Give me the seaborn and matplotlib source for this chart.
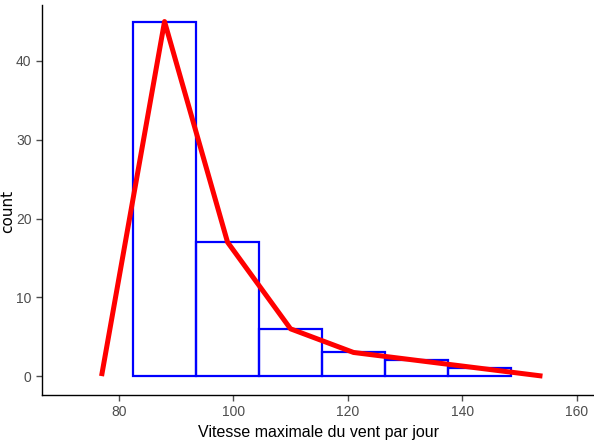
import matplotlib
matplotlib.use("Agg")
import matplotlib.pyplot as plt
import seaborn as sns
import numpy as np

bin_edges = [82.5, 93.5, 104.5, 115.5, 126.5, 137.5, 148.5]
bin_counts = [45, 17, 6, 3, 2, 1]
poly_x = [77, 88, 99, 110, 121, 132, 143, 154]
poly_y = [0, 45, 17, 6, 3, 2, 1, 0]
x_ticks = [80, 100, 120, 140, 160]
y_ticks = [0, 10, 20, 30, 40]

sns.set_style("white")
plt.rcParams['font.family'] = ['Liberation Sans Narrow', 'Liberation Sans', 'DejaVu Sans']

fig = plt.figure(figsize=(5.94, 4.46), dpi=100)
ax = fig.add_axes([42/594, 1-395/446, (594-42)/594, (395-5)/446])

centers = [(bin_edges[i] + bin_edges[i+1]) / 2 for i in range(len(bin_counts))]
sns.histplot(x=centers, weights=bin_counts, bins=bin_edges, fill=False,
             element="bars", color="#0000FF", linewidth=1.6, ax=ax)
sns.lineplot(x=poly_x, y=poly_y, color="#FF0000", linewidth=3.6, ax=ax,
             solid_capstyle="butt")

ax.set_xlim(66.6, 163.0)
ax.set_ylim(-2.4, 47.1)
ax.set_xticks(x_ticks)
ax.set_yticks(y_ticks)
ax.tick_params(axis='both', colors='#4d4d4d', labelsize=10, length=4, width=1,
               direction='out', left=True, bottom=True)
for lbl in ax.get_xticklabels() + ax.get_yticklabels():
    lbl.set_color('#4d4d4d')
for s in ['top', 'right']:
    ax.spines[s].set_visible(False)
for s in ['left', 'bottom']:
    ax.spines[s].set_color('black')
    ax.spines[s].set_linewidth(1.0)
ax.set_xlabel("Vitesse maximale du vent par jour", fontsize=11.5, color='black')
ax.set_ylabel("count", fontsize=11, color='black', family=['DejaVu Sans'])
ax.yaxis.set_label_coords(-27/552, 0.47)
ax.grid(False)

fig.savefig("out.png", dpi=100)
